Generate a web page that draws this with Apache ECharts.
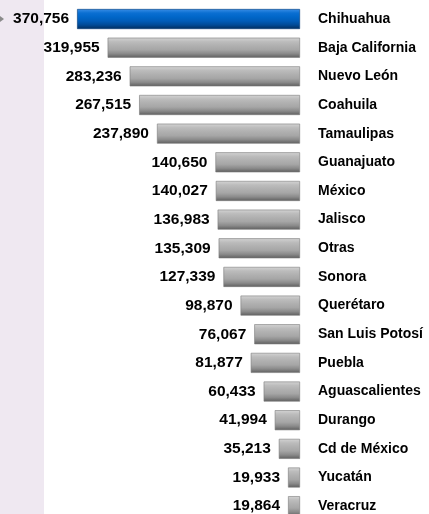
<!DOCTYPE html>
<html><head><meta charset="utf-8">
<script src="https://cdn.jsdelivr.net/npm/echarts@6/dist/echarts.min.js"></script>
<style>html,body{margin:0;padding:0;background:#fff;overflow:hidden}#c{width:429px;height:521px}</style>
</head><body><div id="c"></div>
<script>
const categories = ["Chihuahua","Baja California","Nuevo León","Coahuila","Tamaulipas","Guanajuato","México","Jalisco","Otras","Sonora","Querétaro","San Luis Potosí","Puebla","Aguascalientes","Durango","Cd de México","Yucatán","Veracruz"];
const values = [370756,319955,283236,267515,237890,140650,140027,136983,135309,127339,98870,76067,81877,60433,41994,35213,19933,19864];
const highlight = "Chihuahua";

const FONT = '"Liberation Sans", Arial, sans-serif';
function grad(stops) {
  return new echarts.graphic.LinearGradient(0, 0, 0, 1, stops.map((c, i) => ({offset: i / (stops.length - 1), color: c})));
}
const grayFill = grad(['#d4d4d4', '#bcbcbc', '#b0b0b0', '#a6a6a6', '#8a8a8a', '#5e5e5e']);
const blueFill = grad(['#3a8ee6', '#0a6fd2', '#0066c8', '#005cb8', '#004a96', '#002c5c']);

const chart = echarts.init(document.getElementById('c'), null, {renderer: 'canvas'});
chart.setOption({
  animation: false,
  graphic: [
    {type: 'rect', left: 0, top: 0, shape: {width: 44, height: 521}, style: {fill: '#efe8f1'}, z: -10},
    {type: 'polygon', shape: {points: [[0, 16], [4, 19], [0, 22]]}, style: {fill: '#8a8a8a'}, z: -5}
  ],
  grid: {left: 59.5, right: 129, top: 4.7, bottom: 0.5, containLabel: false},
  xAxis: {type: 'value', inverse: true, min: 0, max: 400000, show: false},
  yAxis: {
    type: 'category', data: categories, inverse: true, position: 'right',
    axisLine: {show: false}, axisTick: {show: false},
    axisLabel: {margin: 18, color: '#000', fontFamily: FONT, fontWeight: 'bold', fontSize: 14, align: 'left'}
  },
  series: [{
    type: 'bar', barWidth: 20,
    data: values.map((v, i) => ({
      value: v,
      itemStyle: {
        color: categories[i] === highlight ? blueFill : grayFill,
        borderColor: categories[i] === highlight ? '#003a78' : '#7a7a7a',
        borderWidth: 0.6
      }
    })),
    label: {
      show: true, position: 'left', distance: 8, color: '#000',
      fontFamily: FONT, fontWeight: 'bold', fontSize: 15.5,
      formatter: p => p.value.toLocaleString('en-US')
    }
  }]
});
</script></body></html>
